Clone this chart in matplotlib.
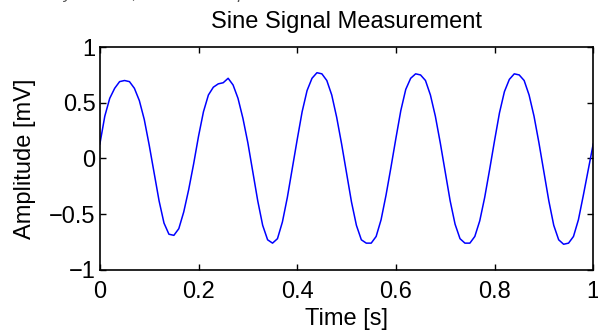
import matplotlib.pyplot as plt
import numpy as np

# tempo di campionamento (0.01 s) e ampiezza
time_s = np.round(np.arange(0, 101) * 0.01, 2)
amplitude_mv = [
    0.13, 0.38, 0.54, 0.63, 0.69, 0.70, 0.69, 0.63, 0.52, 0.35,
    0.12, -0.13, -0.38, -0.58, -0.68, -0.69, -0.63, -0.48, -0.28, -0.05,
    0.20, 0.42, 0.57, 0.64, 0.67, 0.68, 0.72, 0.66, 0.54, 0.36,
    0.14, -0.12, -0.38, -0.60, -0.73, -0.76, -0.72, -0.57, -0.35, -0.09,
    0.17, 0.42, 0.61, 0.72, 0.77, 0.76, 0.70, 0.57, 0.37, 0.13,
    -0.13, -0.39, -0.60, -0.73, -0.76, -0.76, -0.70, -0.55, -0.33, -0.08,
    0.18, 0.43, 0.62, 0.72, 0.76, 0.75, 0.70, 0.57, 0.38, 0.14,
    -0.12, -0.38, -0.59, -0.72, -0.76, -0.76, -0.70, -0.56, -0.35, -0.10,
    0.16, 0.41, 0.60, 0.71, 0.76, 0.75, 0.70, 0.57, 0.38, 0.14,
    -0.12, -0.38, -0.60, -0.73, -0.77, -0.76, -0.70, -0.55, -0.33, -0.10,
    0.13,
]

x_ticks = [0, 0.2, 0.4, 0.6, 0.8, 1]
x_labels = ["0", "0.2", "0.4", "0.6", "0.8", "1"]
y_ticks = [-1, -0.5, 0, 0.5, 1]
y_labels = ["\u22121", "\u22120.5", "0", "0.5", "1"]

plt.rcParams['font.family'] = ['Liberation Sans', 'DejaVu Sans']
fs = 17

fig = plt.figure(figsize=(5.98, 3.34), dpi=100)
ax = fig.add_axes([0.167, 0.192, 0.825, 0.667])

ax.plot(time_s, amplitude_mv, color=(0, 0, 1), linewidth=1.1)

ax.set_xlim(0, 1)
ax.set_ylim(-1, 1)
ax.set_xticks(x_ticks)
ax.set_xticklabels(x_labels)
ax.set_yticks(y_ticks)
ax.set_yticklabels(y_labels)
ax.tick_params(direction='in', top=True, right=True, length=4, width=1,
               labelsize=fs)
ax.tick_params(axis='x', pad=8)
ax.tick_params(axis='y', pad=3)
for s in ax.spines.values():
    s.set_linewidth(1.2)

ax.set_title('Sine Signal Measurement', fontsize=fs, pad=0, y=1.085)
ax.set_xlabel('Time [s]', fontsize=fs)
ax.set_ylabel('Amplitude [mV]', fontsize=fs)
ax.xaxis.set_label_coords(0.5, -0.17)
ax.yaxis.set_label_coords(-0.13, 0.5)

# riga di testo tagliata in alto (resto della pagina)
fig.text(0.0, 1.004, 'So Sandy trace of, then it has equal', fontsize=12,
         style='italic', color='#555555', va='baseline', ha='left')

fig.savefig('out.png', dpi=100)
